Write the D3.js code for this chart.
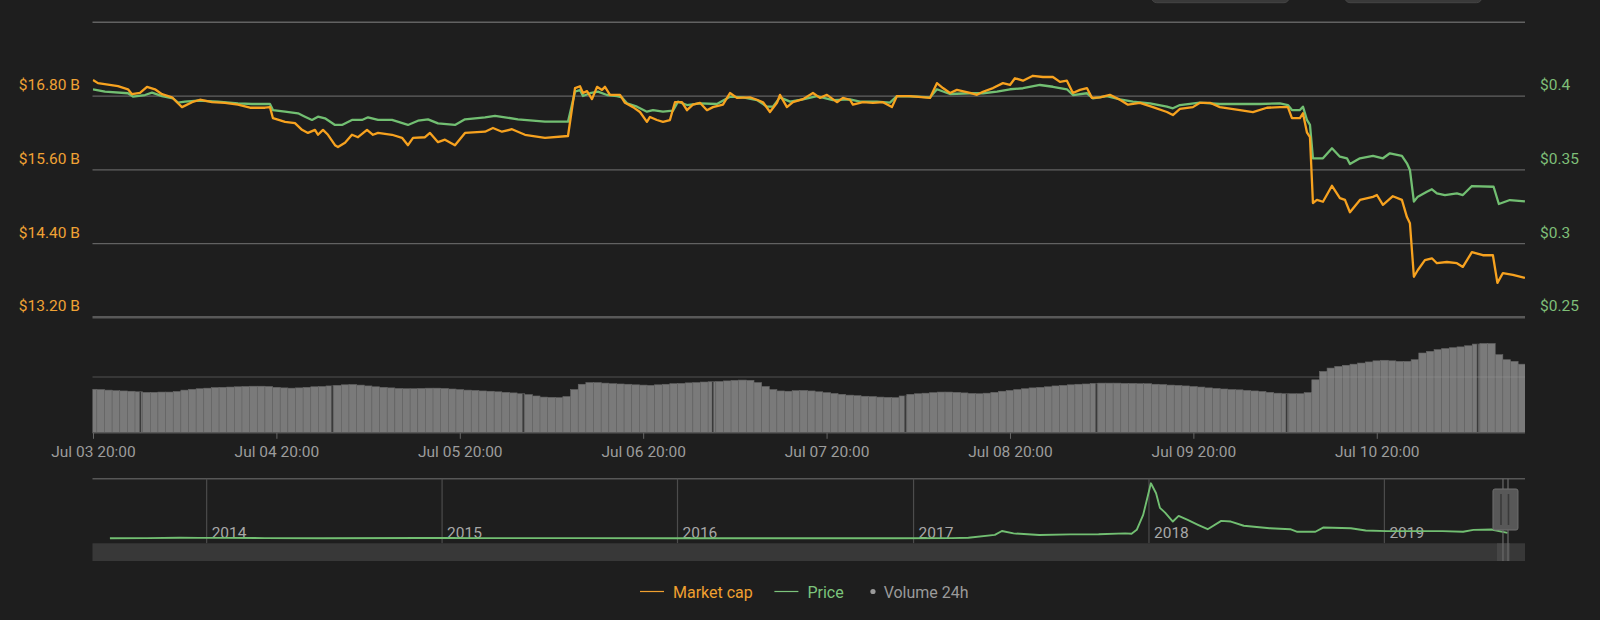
<!DOCTYPE html>
<html>
<head>
<meta charset="utf-8">
<script src="https://cdn.jsdelivr.net/npm/d3@7"></script>
<style>
  html, body { margin: 0; padding: 0; background: #1e1e1e; }
  svg { display: block; font-family: Roboto, "Noto Sans", sans-serif; }
</style>
</head>
<body>
<svg id="chart"></svg>
<script>
// ---- data (hours are counted from Jul 03 2019 20:00) ----

const mcHours = [0,0.65,3.27,4.58,5.1,6.15,7.07,8.11,9.03,10.34,10.99,11.65,12.96,14,15.57,17.27,18.97,20.55,22.51,23.16,
  23.55,25.13,26.43,27.35,28.13,29.05,29.44,30.1,30.75,31.67,32.06,32.98,33.89,34.68,35.86,36.64,37.3,39.13,40.44,41.22,
  41.88,43.45,44.1,45.15,46.06,47.37,48.68,51.3,52.34,53.52,54.83,56.53,59.15,62.16,63.08,63.73,64.12,64.65,65.3,65.96,
  66.61,67,67.66,68.97,69.62,70.67,71.58,72.49,72.89,73.8,74.59,75.5,76.16,77.07,77.73,78.51,79.43,80.35,81.13,82.44,
  83.36,84.27,85.97,86.89,87.68,88.59,89.51,89.9,90.81,91.6,92.91,94.22,95.13,96.05,97.36,98.14,99.06,99.45,100.76,102.07,
  103.38,104.55,105.21,106.91,109.53,110.44,111.23,112.15,113.06,114.77,115.68,116.47,117.78,119.08,120,120.65,121.7,123.01,124.31,125.62,
  126.54,127.45,128.24,129.16,130.07,130.73,131.77,133.08,134.39,135.44,137.01,138.71,140.54,141.32,142.24,143.94,144.86,146.17,147.47,150.09,
  151.79,153.63,155.33,156.37,156.9,157.94,158.34,158.86,159.26,159.65,160.17,160.96,162.14,163.18,163.84,164.49,165.8,167.5,168.02,168.81,
  170.11,171.29,171.95,172.34,172.86,173.38,174.3,175.22,175.87,177.18,178.49,179.27,180.45,181.89,183.2,183.79,184.51,185.82,187.39];

// market cap, billions USD
const marketCap = [17.06,17.01,16.96,16.91,16.83,16.85,16.95,16.91,16.83,16.78,16.70,16.62,16.70,16.74,16.70,16.69,16.66,16.61,16.61,16.62,
  16.44,16.38,16.36,16.25,16.20,16.25,16.17,16.25,16.17,16.00,15.97,16.04,16.17,16.13,16.25,16.17,16.20,16.17,16.12,16.00,
  16.12,16.13,16.20,16.05,16.09,16.00,16.20,16.22,16.28,16.22,16.26,16.17,16.12,16.15,16.93,16.96,16.85,16.88,16.75,16.95,
  16.90,16.95,16.82,16.82,16.69,16.62,16.54,16.38,16.46,16.41,16.38,16.41,16.70,16.70,16.57,16.66,16.69,16.57,16.62,16.66,
  16.85,16.77,16.78,16.74,16.70,16.54,16.69,16.82,16.62,16.70,16.75,16.85,16.77,16.82,16.70,16.77,16.74,16.66,16.70,16.69,
  16.70,16.62,16.80,16.80,16.77,17.01,16.93,16.85,16.90,16.85,16.82,16.87,16.93,17.01,16.98,17.09,17.05,17.13,17.11,17.11,
  17.03,17.05,16.85,16.90,16.93,16.77,16.78,16.82,16.74,16.66,16.69,16.62,16.54,16.49,16.59,16.62,16.69,16.69,16.62,16.57,
  16.54,16.61,16.62,16.62,16.44,16.44,16.52,16.21,16.13,15.06,15.11,15.08,15.34,15.14,15.11,14.91,15.11,15.16,15.19,15.03,
  15.17,15.11,14.83,14.73,13.86,13.97,14.13,14.16,14.08,14.10,14.08,14.02,14.26,14.21,14.21,13.76,13.92,13.89,13.84];

const priceHours = [0,1.57,4.58,5.23,6.8,7.72,9.03,10.47,11.12,12.04,13.74,16.36,18.97,20.81,23.16,23.55,25.13,26.83,27.74,28.66,
  29.44,30.36,31.67,32.58,33.89,35.2,35.99,37.3,39.13,41.22,42.53,43.84,45.15,47.37,48.68,51.3,52.61,53.92,55.61,59.15,
  62.16,63.08,63.73,64.12,65.04,66.08,67.26,68.57,69.22,69.88,71.19,72.49,73.28,74.59,75.9,76.55,77.73,79.43,81.65,83.36,
  85.06,86.89,88.2,88.98,89.9,91.21,92.91,94.74,96.83,99.06,100.37,102.59,104.29,105.21,107.83,109.53,110.44,112.15,114.77,116.47,
  118.3,120,121.7,123.92,125.62,127.45,128.24,130.07,130.86,132.69,134.39,136.09,138.32,140.54,141.32,142.24,144.86,147.47,150.09,152.71,
  155.33,156.37,156.9,157.94,158.34,158.86,159.26,159.65,160.96,162.14,163.18,164.1,164.49,165.8,167.5,168.81,169.72,171.29,171.95,172.34,
  172.86,173.38,174.56,175.22,175.87,176.92,178.49,179.27,180.45,183.29,183.98,185.42,187.39];

// price, USD
const price = [0.4046,0.4030,0.4019,0.3996,0.4007,0.4023,0.4000,0.3985,0.3955,0.3962,0.3969,0.3962,0.3951,0.3946,0.3946,0.3905,0.3894,0.3883,0.3860,0.3838,
  0.3860,0.3849,0.3804,0.3804,0.3838,0.3838,0.3856,0.3838,0.3838,0.3804,0.3833,0.3842,0.3815,0.3804,0.3842,0.3856,0.3865,0.3856,0.3842,0.3826,
  0.3826,0.4030,0.4041,0.4000,0.4019,0.4030,0.4007,0.4000,0.3991,0.3951,0.3928,0.3894,0.3905,0.3894,0.3901,0.3962,0.3939,0.3951,0.3946,0.3996,
  0.3991,0.3973,0.3928,0.3928,0.3991,0.3962,0.3978,0.4000,0.3973,0.3978,0.3962,0.3962,0.3955,0.4000,0.3996,0.3991,0.4046,0.4014,0.4019,0.4019,
  0.4030,0.4046,0.4053,0.4075,0.4063,0.4046,0.4007,0.4019,0.3985,0.4000,0.3978,0.3962,0.3951,0.3928,0.3917,0.3939,0.3955,0.3946,0.3946,0.3946,
  0.3951,0.3939,0.3905,0.3905,0.3928,0.3838,0.3804,0.3578,0.3578,0.3646,0.3589,0.3578,0.3539,0.3578,0.3594,0.3578,0.3612,0.3594,0.3544,0.3499,
  0.3284,0.3318,0.3351,0.3368,0.3340,0.3329,0.3340,0.3329,0.3390,0.3385,0.3268,0.3295,0.3286];

// 24h volume, billions USD, one value per hour from hour 0
const volume24h = [1.56,1.55,1.53,1.51,1.50,1.49,1.47,1.45,1.45,1.46,1.46,
  1.48,1.53,1.56,1.58,1.60,1.62,1.63,1.64,1.65,1.66,
  1.67,1.67,1.66,1.63,1.61,1.60,1.61,1.63,1.65,1.66,
  1.68,1.70,1.72,1.73,1.71,1.68,1.65,1.63,1.61,1.59,
  1.58,1.58,1.59,1.60,1.60,1.59,1.57,1.55,1.53,1.52,
  1.50,1.49,1.47,1.45,1.43,1.40,1.37,1.32,1.28,1.27,
  1.26,1.30,1.55,1.74,1.80,1.80,1.78,1.76,1.75,1.74,
  1.72,1.71,1.70,1.72,1.74,1.76,1.77,1.79,1.80,1.82,
  1.83,1.84,1.86,1.88,1.89,1.88,1.80,1.66,1.55,1.50,
  1.49,1.51,1.52,1.50,1.47,1.44,1.41,1.38,1.35,1.33,
  1.31,1.30,1.28,1.27,1.26,1.32,1.38,1.40,1.42,1.44,
  1.46,1.46,1.45,1.43,1.41,1.40,1.42,1.45,1.49,1.52,
  1.55,1.58,1.61,1.63,1.65,1.68,1.70,1.72,1.74,1.75,
  1.77,1.78,1.78,1.78,1.77,1.77,1.76,1.76,1.74,1.73,
  1.71,1.70,1.68,1.66,1.64,1.61,1.59,1.57,1.55,1.54,
  1.52,1.50,1.48,1.45,1.42,1.40,1.40,1.40,1.44,1.90,
  2.20,2.32,2.38,2.42,2.46,2.50,2.54,2.58,2.60,2.58,
  2.56,2.56,2.62,2.86,2.92,2.98,3.02,3.05,3.08,3.12,
  3.18,3.20,3.20,2.80,2.62,2.56,2.46];

// hours where the volume series has a missing sample
const volumeGapHours = [6.2, 31.3, 56.3, 81.1, 106.3, 131.3, 156.2, 181.2];

// navigator: whole price history
const navDates = ["2013-08-04","2013-10-01","2013-11-20","2013-12-20","2014-02-01","2014-04-01","2014-07-01","2014-12-01",
  "2015-01-01","2015-03-01","2015-06-01","2015-08-01","2016-01-01","2016-06-01","2016-12-01",
  "2017-03-01","2017-03-27","2017-05-07","2017-05-18","2017-06-05","2017-07-15","2017-09-01","2017-10-15","2017-11-25","2017-12-05","2017-12-13","2017-12-23",
  "2018-01-04","2018-01-12","2018-01-18","2018-01-26","2018-02-07","2018-02-16","2018-03-02","2018-03-18","2018-04-02","2018-04-23",
  "2018-05-08","2018-05-28","2018-07-07","2018-08-08","2018-08-19","2018-09-16","2018-09-28","2018-11-10","2018-12-03",
  "2019-01-05","2019-04-01","2019-05-03","2019-05-19","2019-06-16","2019-07-11"];
const navPrices = [0.006,0.012,0.03,0.025,0.028,0.01,0.006,0.014,
  0.022,0.011,0.01,0.008,0.006,0.006,0.007,
  0.01,0.03,0.21,0.45,0.3,0.2,0.24,0.25,0.3,0.28,0.52,1.44,
  3.38,2.77,1.87,1.58,1.03,1.38,1.13,0.83,0.56,1.07,
  1.03,0.77,0.62,0.56,0.4,0.4,0.66,0.62,0.48,
  0.44,0.44,0.4,0.52,0.54,0.33];
const navYears = [2014, 2015, 2016, 2017, 2018, 2019];

const mcTicks = [13.2, 14.4, 15.6, 16.8, 18.0];
const priceTicks = [0.25, 0.3, 0.35, 0.4, 0.45];
const dayTickHours = [0, 24, 48, 72, 96, 120, 144, 168];

const legendItems = [
  {label: "Market cap", color: "#f0a030", symbol: "line"},
  {label: "Price", color: "#7cc47c", symbol: "line"},
  {label: "Volume 24h", color: "#9a9a9a", symbol: "dot"},
];

// ---- layout ----

const width = 1600, height = 620;
const left = 92.5, right = 1525;
const paneTop = 22.3, paneBottom = 317.3;
const volBase = 432.8;
const navTop = 478.7, navBottom = 543.3, scrollBottom = 561;

const orange = "#f7a21f", green = "#72bf72";

const start = new Date(2019, 6, 3, 20, 0);
const atHour = h => new Date(start.getTime() + h * 3600e3);
const parseDay = d3.timeParse("%Y-%m-%d");

const svg = d3.select("#chart").attr("width", width).attr("height", height);
svg.append("rect").attr("width", width).attr("height", height).attr("fill", "#1e1e1e");

const x = d3.scaleTime()
  .domain([atHour(0), atHour(187.4)])
  .range([93, right]);
const yMC = d3.scaleLinear().domain([13.2, 18.0]).range([paneBottom, paneTop]);
const yPrice = d3.scaleLinear().domain([0.25, 0.45]).range([paneBottom, paneTop]);
const yVol = d3.scaleLinear().domain([0, 2]).range([volBase, 377]);
const navX = d3.scaleTime()
  .domain([new Date(2013, 6, 8), new Date(2019, 7, 7)])
  .range([left, right]);
const navY = d3.scaleLinear().domain([0, 3.38]).range([538.3, 483.3]);

const defs = svg.append("defs");
defs.append("clipPath").attr("id", "clip-plot")
  .append("rect").attr("x", left).attr("y", 0).attr("width", right - left).attr("height", volBase);
defs.append("clipPath").attr("id", "clip-nav")
  .append("rect").attr("x", left).attr("y", navTop).attr("width", right - left).attr("height", navBottom - navTop);

// range selector buttons, only their lower edge is in view
svg.selectAll("rect.button")
  .data([[1151.7, 1289], [1345, 1481.7]])
  .join("rect")
  .classed("button", true)
  .attr("x", d => d[0]).attr("y", -20)
  .attr("width", d => d[1] - d[0]).attr("height", 22.7)
  .attr("rx", 5)
  .attr("fill", "#393939").attr("stroke", "#444");

// ---- price pane grid and axes ----

svg.append("g")
  .selectAll("line")
  .data(mcTicks)
  .join("line")
  .attr("x1", left).attr("x2", right)
  .attr("y1", d => yMC(d)).attr("y2", d => yMC(d))
  .attr("stroke", (d, i) => i === 0 ? "#595959" : "#626262")
  .attr("stroke-width", (d, i) => i === 0 ? 2.5 : (i === mcTicks.length - 1 ? 1.6 : 1.2));

const fmtB = d => `$${d3.format(".2f")(d)} B`;

svg.append("g")
  .attr("font-size", "15.5px")
  .attr("fill", "#f0a235")
  .attr("text-anchor", "end")
  .selectAll("text")
  .data(mcTicks.slice(0, -1))
  .join("text")
  .attr("x", 80)
  .attr("y", d => yMC(d) - 6)
  .text(fmtB);

svg.append("g")
  .attr("font-size", "15.5px")
  .attr("fill", "#7fbf78")
  .attr("text-anchor", "start")
  .selectAll("text")
  .data(priceTicks.slice(0, -1))
  .join("text")
  .attr("x", 1540)
  .attr("y", d => yPrice(d) - 6)
  .text(d => `$${d}`);

// ---- volume pane ----

const barW = x(atHour(1)) - x(atHour(0));
const plotArea = svg.append("g").attr("clip-path", "url(#clip-plot)");

plotArea.append("g")
  .selectAll("rect")
  .data(volume24h)
  .join("rect")
  .attr("x", (d, i) => x(atHour(i)) - barW / 2)
  .attr("y", d => yVol(d))
  .attr("width", barW)
  .attr("height", d => volBase - yVol(d))
  .attr("fill", "#7a7a7a")
  .attr("stroke", "#666")
  .attr("stroke-width", 0.6);

plotArea.append("g")
  .selectAll("rect")
  .data(volumeGapHours)
  .join("rect")
  .attr("x", h => x(atHour(h)) - 0.8)
  .attr("y", h => yVol(volume24h[Math.round(h)]))
  .attr("width", 1.6)
  .attr("height", h => volBase - yVol(volume24h[Math.round(h)]))
  .attr("fill", "#3a3a3a");

// volume grid line sits over the bars
svg.append("line")
  .attr("x1", left).attr("x2", right)
  .attr("y1", yVol(2)).attr("y2", yVol(2))
  .attr("stroke", "#9a9a9a").attr("stroke-opacity", 0.42).attr("stroke-width", 1.2);

// time axis
const xAxis = svg.append("g")
  .attr("transform", `translate(0,${volBase})`)
  .call(d3.axisBottom(x)
    .tickValues(dayTickHours.map(atHour))
    .tickFormat(d3.timeFormat("%b %d %H:%M"))
    .tickSize(6)
    .tickSizeOuter(0));
xAxis.select(".domain").attr("stroke", "#585858").attr("stroke-width", 1.5)
  .attr("d", `M${left},0H${right}`);
xAxis.selectAll(".tick line").attr("stroke", "#666");
xAxis.selectAll(".tick text")
  .attr("fill", "#9c9c9c")
  .attr("font-size", "15.5px")
  .attr("font-family", "Roboto, sans-serif")
  .attr("y", 24).attr("dy", 0);

// ---- lines ----

const priceLine = d3.line()
  .x((d, i) => x(atHour(priceHours[i])))
  .y(d => yPrice(d));
const mcLine = d3.line()
  .x((d, i) => x(atHour(mcHours[i])))
  .y(d => yMC(d));

plotArea.append("path")
  .datum(price)
  .attr("d", priceLine)
  .attr("fill", "none")
  .attr("stroke", green)
  .attr("stroke-width", 2.3)
  .attr("stroke-linejoin", "round");

plotArea.append("path")
  .datum(marketCap)
  .attr("d", mcLine)
  .attr("fill", "none")
  .attr("stroke", orange)
  .attr("stroke-width", 2.3)
  .attr("stroke-linejoin", "round");

// ---- navigator ----

svg.append("line")
  .attr("x1", left).attr("x2", right)
  .attr("y1", navTop).attr("y2", navTop)
  .attr("stroke", "#575757").attr("stroke-width", 1.5);

const yearDates = navYears.map(y => new Date(y, 0, 1));

svg.append("g")
  .selectAll("line")
  .data(yearDates)
  .join("line")
  .attr("x1", d => navX(d)).attr("x2", d => navX(d))
  .attr("y1", navTop).attr("y2", navBottom)
  .attr("stroke", "#4c4c4c").attr("stroke-width", 1.2);

svg.append("g")
  .attr("font-size", "15.5px")
  .attr("fill", "#a8a8a8")
  .selectAll("text")
  .data(yearDates)
  .join("text")
  .attr("x", d => navX(d) + 5)
  .attr("y", 537.5)
  .text(d3.timeFormat("%Y"));

const navLine = d3.line()
  .x((d, i) => navX(parseDay(navDates[i])))
  .y(d => navY(d));

svg.append("path")
  .datum(navPrices)
  .attr("clip-path", "url(#clip-nav)")
  .attr("d", navLine)
  .attr("fill", "none")
  .attr("stroke", green)
  .attr("stroke-width", 1.9)
  .attr("stroke-linejoin", "round");

// scrollbar
svg.append("rect")
  .attr("x", left).attr("y", navBottom)
  .attr("width", right - left).attr("height", scrollBottom - navBottom)
  .attr("fill", "#383838");
svg.append("rect")
  .attr("x", navX(atHour(0)) - 6).attr("y", navBottom)
  .attr("width", 13).attr("height", scrollBottom - navBottom)
  .attr("fill", "#464646");

// selected range outline
const selStart = navX(atHour(0)), selEnd = navX(atHour(187.4));
svg.append("g")
  .selectAll("line")
  .data([selStart, selEnd])
  .join("line")
  .attr("x1", d => d).attr("x2", d => d)
  .attr("y1", navTop).attr("y2", scrollBottom)
  .attr("stroke", "#6a6a6a").attr("stroke-width", 1.2);

// handle
const handleX = (selStart + selEnd) / 2;
svg.append("rect")
  .attr("x", handleX - 12.5).attr("y", 489)
  .attr("width", 25).attr("height", 41)
  .attr("rx", 2)
  .attr("fill", "#585858").attr("stroke", "#707070");
svg.append("g")
  .selectAll("line")
  .data([-4.5, 3])
  .join("line")
  .attr("x1", d => handleX + d).attr("x2", d => handleX + d)
  .attr("y1", 494).attr("y2", 525)
  .attr("stroke", "#3a3a3a").attr("stroke-width", 1.6);

// ---- legend ----

const legend = svg.append("g").attr("font-size", "16px");
let lx = 640;
const ly = 597.5;
legendItems.forEach(item => {
  const g = legend.append("g");
  let tx;
  if (item.symbol === "line") {
    g.append("line")
      .attr("x1", lx).attr("x2", lx + 24)
      .attr("y1", ly - 6).attr("y2", ly - 6)
      .attr("stroke", item.color).attr("stroke-width", 1.2);
    tx = lx + 33;
  } else {
    g.append("circle")
      .attr("cx", lx + 7.7).attr("cy", ly - 6).attr("r", 2.6)
      .attr("fill", item.color);
    tx = lx + 18.4;
  }
  const t = g.append("text")
    .attr("x", tx).attr("y", ly)
    .attr("fill", item.color)
    .text(item.label);
  lx = tx + t.node().getComputedTextLength() + 21.6;
});
</script>
</body>
</html>
